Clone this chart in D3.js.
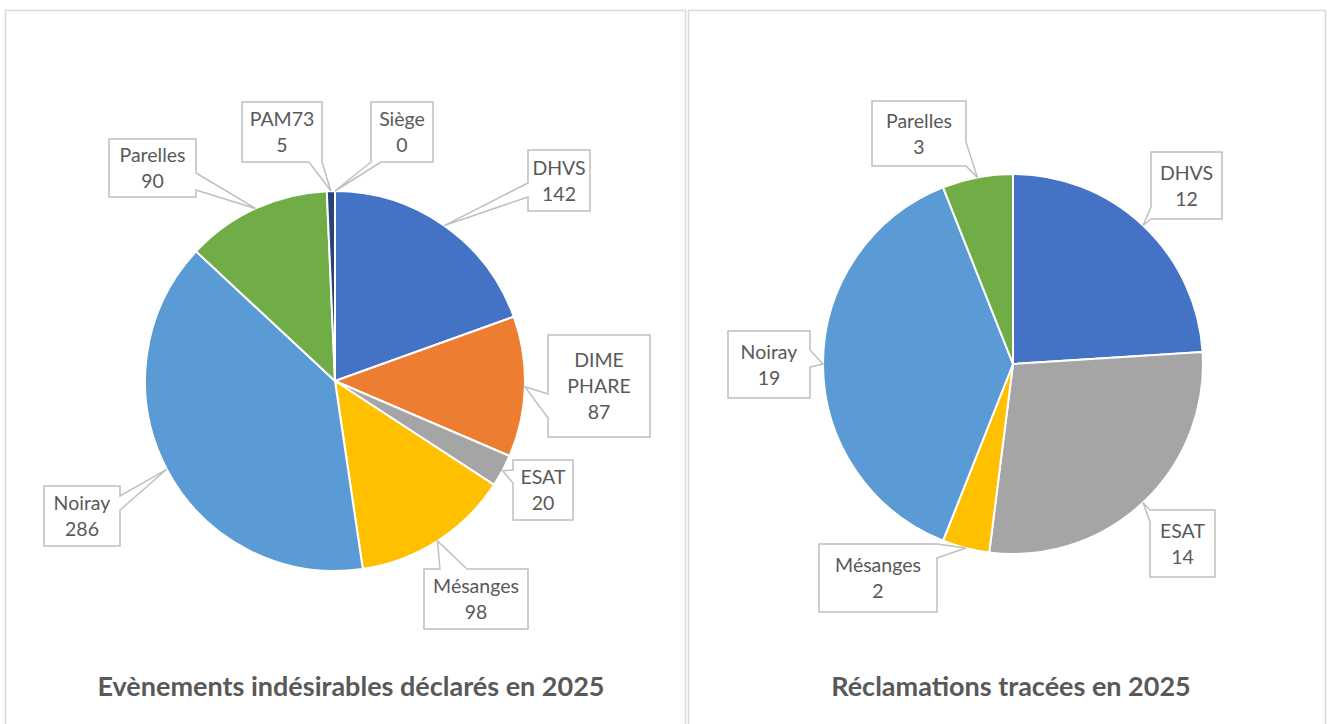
<!DOCTYPE html>
<html>
<head>
<meta charset="utf-8">
<script src="https://cdn.jsdelivr.net/npm/d3@7"></script>
<style>
  body { margin: 0; background: #fff; }
  svg { display: block; }
</style>
</head>
<body>
<svg width="1330" height="724"></svg>
<script>
// data
var leftTitle = "Evènements indésirables déclarés en 2025";
var leftCategories = ["DHVS", "DIME PHARE", "ESAT", "Mésanges", "Noiray", "Parelles", "PAM73", "Siège"];
var leftValues = [142, 87, 20, 98, 286, 90, 5, 0];

var rightTitle = "Réclamations tracées en 2025";
var rightCategories = ["DHVS", "ESAT", "Mésanges", "Noiray", "Parelles"];
var rightValues = [12, 14, 2, 19, 3];

var allCategories = ["DHVS", "DIME PHARE", "ESAT", "Mésanges", "Noiray", "Parelles", "PAM73", "Siège"];
var color = d3.scaleOrdinal()
    .domain(allCategories)
    .range(["#4472C4", "#ED7D31", "#A5A5A5", "#FFC000", "#5B9BD5", "#70AD47", "#264478", "#9E480E"]);

// label box layout: [x0, y0, x1, y1], side of the pointer, pointer base
var leftLabels = {
  "DHVS":       { box: [528, 150, 590, 211], side: "left",   base: [183, 197] },
  "DIME PHARE": { box: [548, 335, 650, 437], side: "left",   base: [394, 418] },
  "ESAT":       { box: [513, 460, 573, 520], side: "left",   base: [470, 483] },
  "Mésanges":   { box: [424, 569, 528, 629], side: "top",    base: [440, 467] },
  "Noiray":     { box: [44, 486, 120, 546],  side: "right",  base: [496, 510] },
  "Parelles":   { box: [109, 139, 196, 197], side: "right",  base: [173, 190] },
  "PAM73":      { box: [242, 102, 322, 162], side: "bottom", base: [309, 322] },
  "Siège":      { box: [371, 102, 433, 162], side: "bottom", base: [371, 381] }
};
var rightLabels = {
  "DHVS":     { box: [1151, 152, 1222, 219], side: "left",  base: [207, 219] },
  "ESAT":     { box: [1150, 510, 1215, 577], side: "left",  base: [510, 522] },
  "Mésanges": { box: [819, 544, 937, 612],   side: "right", base: [544, 558] },
  "Noiray":   { box: [728, 331, 810, 398],   side: "right", base: [350, 367] },
  "Parelles": { box: [872, 101, 966, 166],   side: "right", base: [142, 166] }
};

var svg = d3.select("svg");
var textColor = "#595959";
var lineColor = "#bfbfbf";

// chart frames
svg.append("rect")
    .attr("x", 5.5).attr("y", 10.5).attr("width", 680).attr("height", 740)
    .attr("fill", "none").attr("stroke", "#d9d9d9").attr("stroke-width", 1.5);
svg.append("rect")
    .attr("x", 688.5).attr("y", 10.5).attr("width", 637).attr("height", 740)
    .attr("fill", "none").attr("stroke", "#d9d9d9").attr("stroke-width", 1.5);

function bubblePath(lab, tip) {
  var x0 = lab.box[0], y0 = lab.box[1], x1 = lab.box[2], y1 = lab.box[3];
  var a = lab.base[0], b = lab.base[1];
  var p = "M" + x0 + "," + y0;
  if (lab.side == "top") p += "L" + a + "," + y0 + "L" + tip[0] + "," + tip[1] + "L" + b + "," + y0;
  p += "L" + x1 + "," + y0;
  if (lab.side == "right") p += "L" + x1 + "," + a + "L" + tip[0] + "," + tip[1] + "L" + x1 + "," + b;
  p += "L" + x1 + "," + y1;
  if (lab.side == "bottom") p += "L" + b + "," + y1 + "L" + tip[0] + "," + tip[1] + "L" + a + "," + y1;
  p += "L" + x0 + "," + y1;
  if (lab.side == "left") p += "L" + x0 + "," + b + "L" + tip[0] + "," + tip[1] + "L" + x0 + "," + a;
  return p + "Z";
}

function drawPie(categories, values, cx, cy, r, labels, title, titleX) {
  var data = categories.map(function(c, i) { return { name: c, value: values[i] }; });
  var pie = d3.pie().sort(null).value(function(d) { return d.value; });
  var arc = d3.arc().innerRadius(0).outerRadius(r);
  var arcs = pie(data);

  var g = svg.append("g").attr("transform", "translate(" + cx + "," + cy + ")");
  g.selectAll("path")
      .data(arcs.filter(function(d) { return d.value > 0; }))
      .enter().append("path")
      .attr("d", arc)
      .attr("fill", function(d) { return color(d.data.name); })
      .attr("stroke", "#fff")
      .attr("stroke-width", 2)
      .attr("stroke-linejoin", "round");

  arcs.forEach(function(d) {
    var lab = labels[d.data.name];
    var ang = (d.startAngle + d.endAngle) / 2;
    var tip = [cx + r * Math.sin(ang), cy - r * Math.cos(ang)];
    svg.append("path")
        .attr("d", bubblePath(lab, tip))
        .attr("fill", "#fff")
        .attr("stroke", lineColor)
        .attr("stroke-width", 1.5)
        .attr("stroke-linejoin", "miter");

    var lines = d.data.name == "DIME PHARE" ? ["DIME", "PHARE"] : [d.data.name];
    lines.push(String(d.data.value));
    var midY = (lab.box[1] + lab.box[3]) / 2;
    var lh = 26;
    var t = svg.append("text")
        .attr("x", (lab.box[0] + lab.box[2]) / 2)
        .attr("text-anchor", "middle")
        .attr("font-family", "Lato, 'Open Sans', sans-serif")
        .attr("font-size", 19.5)
        .attr("fill", textColor);
    lines.forEach(function(s, i) {
      t.append("tspan")
          .attr("x", (lab.box[0] + lab.box[2]) / 2)
          .attr("y", midY + (i - (lines.length - 1) / 2) * lh + 7)
          .text(s);
    });
  });

  svg.append("text")
      .attr("x", titleX)
      .attr("y", 696)
      .attr("text-anchor", "middle")
      .attr("font-family", "Lato, 'Open Sans', sans-serif")
      .attr("font-weight", "bold")
      .attr("font-size", 27)
      .attr("fill", textColor)
      .text(title);
}

drawPie(leftCategories, leftValues, 335, 381, 190, leftLabels, leftTitle, 351);
drawPie(rightCategories, rightValues, 1013, 364, 190, rightLabels, rightTitle, 1011);
</script>
</body>
</html>
